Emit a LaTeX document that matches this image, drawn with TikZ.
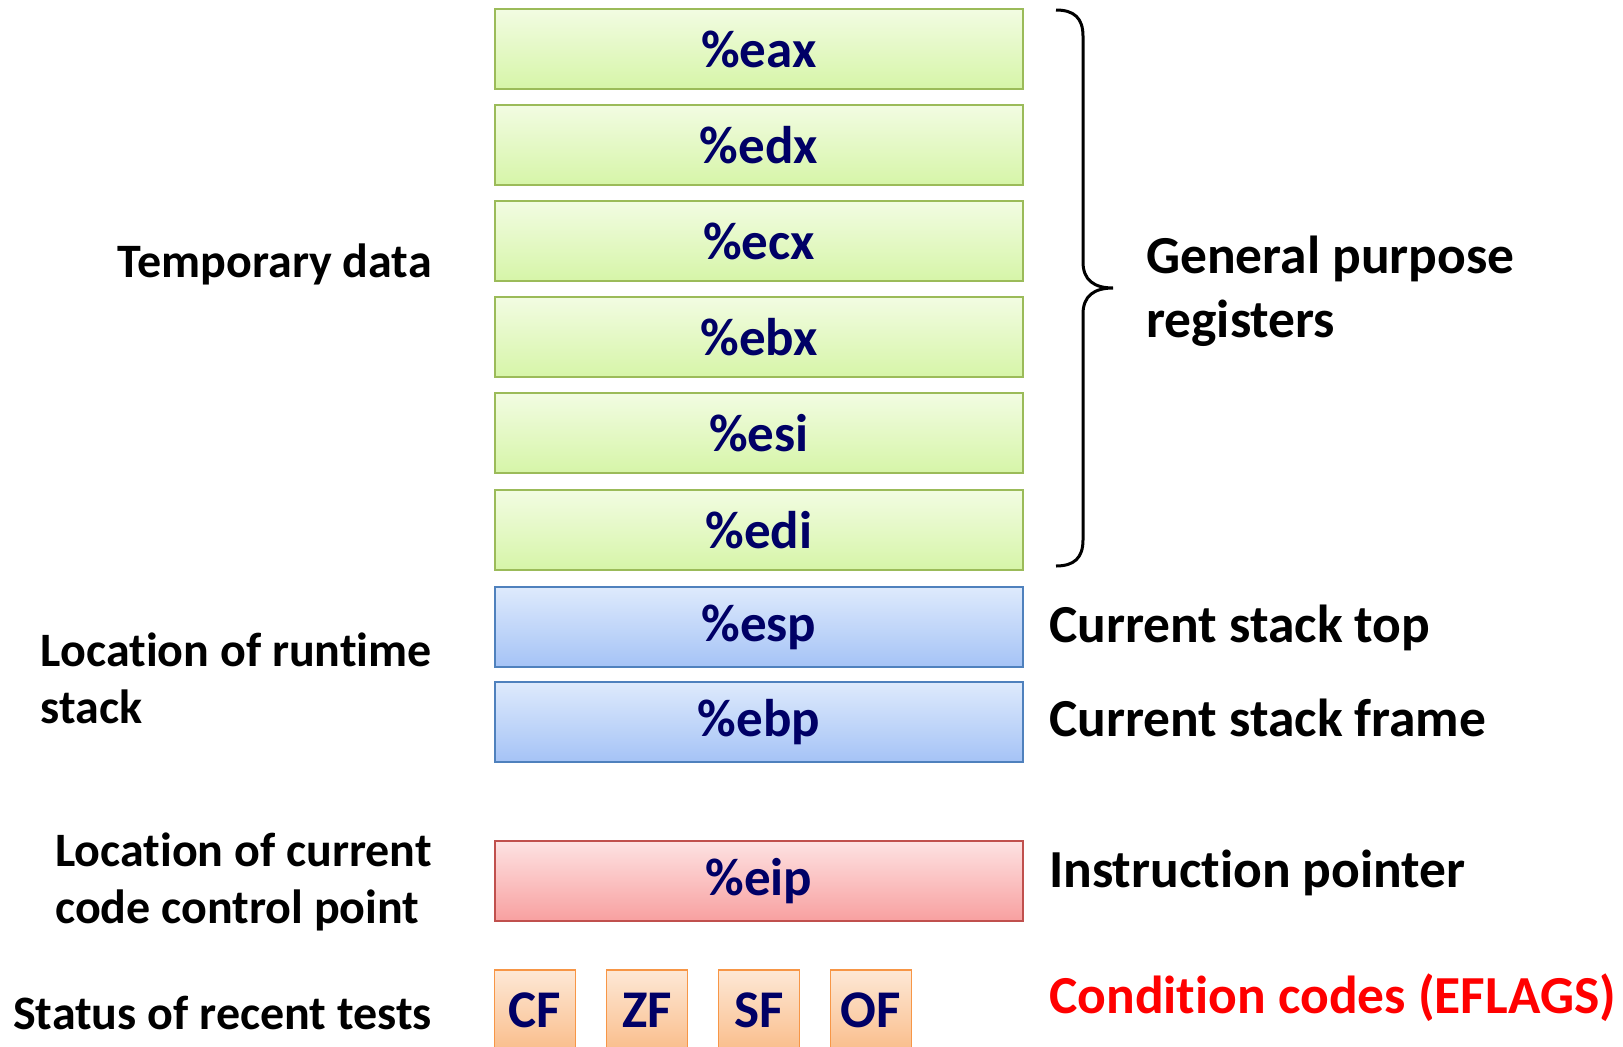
\documentclass[tikz,border=0pt]{standalone}
\usepackage{fontspec}
\setmainfont{Carlito}[Ligatures=NoCommon]
\begin{document}
\begin{tikzpicture}[x=1pt,y=-1pt,
  reg/.style={draw, line width=1.5pt, minimum width=528pt, minimum height=80pt,
    inner sep=0pt, font=\fontsize{53}{60}\selectfont\bfseries, text=regtext},
  greenreg/.style={reg, draw=greenline, top color=greentop, bottom color=greenbot},
  bluereg/.style={reg, draw=blueline, top color=bluetop, bottom color=bluebot},
  redreg/.style={reg, draw=redline, top color=redtop, bottom color=redbot},
  flagbox/.style={reg, minimum width=81pt, minimum height=80pt, draw=orangeline,
    top color=orangetop, bottom color=orangebot},
  lbl/.style={inner sep=0pt, font=\fontsize{48}{57}\selectfont\bfseries, align=left},
  rlbl/.style={inner sep=0pt, font=\fontsize{53.5}{64}\selectfont\bfseries, align=left}
]
\definecolor{regtext}{RGB}{0,0,102}
\definecolor{greenline}{RGB}{155,187,89}
\definecolor{greentop}{RGB}{242,252,226}
\definecolor{greenbot}{RGB}{214,245,168}
\definecolor{blueline}{RGB}{79,129,189}
\definecolor{bluetop}{RGB}{222,234,252}
\definecolor{bluebot}{RGB}{165,195,246}
\definecolor{redline}{RGB}{192,80,77}
\definecolor{redtop}{RGB}{253,226,226}
\definecolor{redbot}{RGB}{248,160,160}
\definecolor{orangeline}{RGB}{247,150,70}
\definecolor{orangetop}{RGB}{253,232,214}
\definecolor{orangebot}{RGB}{250,190,140}

\useasboundingbox (0,0) rectangle (1623,1047);
\clip (0,0) rectangle (1623,1047);

% general purpose registers
\node[greenreg] (eax) at (759,49) {\%eax};
\node[greenreg] (edx) at (759,145) {\%edx};
\node[greenreg] (ecx) at (759,241) {\%ecx};
\node[greenreg] (ebx) at (759,337) {\%ebx};
\node[greenreg] (esi) at (759,433) {\%esi};
\node[greenreg] (edi) at (759,530) {\%edi};

% stack registers
\node[bluereg] (esp) at (759,627) {\%esp};
\node[bluereg] (ebp) at (759,722) {\%ebp};

% instruction pointer
\node[redreg] (eip) at (759,881) {\%eip};

% condition flags
\node[flagbox] (cf) at (535,1010) {CF};
\node[flagbox] (zf) at (647,1010) {ZF};
\node[flagbox] (sf) at (759,1010) {SF};
\node[flagbox] (of) at (871,1010) {OF};

% left-hand descriptions
\node[lbl, anchor=east] (tmp) at (432,264) {Temporary data};
\node[lbl, anchor=east] (stk) at (432,678) {Location of runtime\\stack};
\node[lbl, anchor=east] (code) at (432,882) {Location of current\\code control point};
\node[lbl, anchor=east] (stat) at (432,1013) {Status of recent tests};

% right-hand descriptions
\coordinate (bracetop) at (1056,10);
\coordinate (bracebot) at (1056,566);
\coordinate (bracetip) at (1113,288);
\draw[line width=3pt] (bracetop)
  .. controls (1074,10) and (1083,18) .. (1083,36) -- (1083,262)
  .. controls (1083,280) and (1094,288) .. (bracetip)
  .. controls (1094,288) and (1083,296) .. (1083,314) -- (1083,540)
  .. controls (1083,558) and (1074,566) .. (bracebot);
\node[rlbl, anchor=west] (gpr) at (1146,291) {General purpose\\registers};
\node[rlbl, anchor=west] (top) at (1049,628) {Current stack top};
\node[rlbl, anchor=west] (frm) at (1049,718) {Current stack frame};
\node[rlbl, anchor=west] (ip) at (1049,873) {Instruction pointer};
\node[rlbl, anchor=west, text=red] (cc) at (1049,998) {Condition codes (EFLAGS)};
\end{tikzpicture}
\end{document}
